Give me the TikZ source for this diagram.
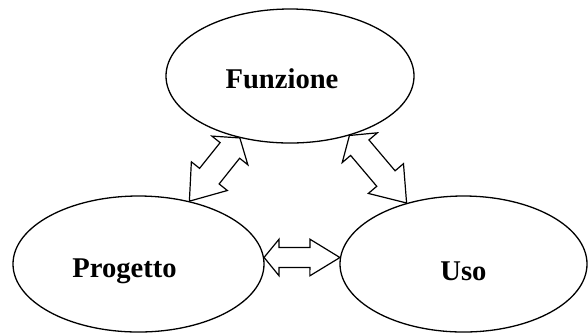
\documentclass[tikz,border=0pt]{standalone}
\usepackage{fontspec}
\setmainfont{Liberation Serif}
\usetikzlibrary{shapes.geometric,calc}

\tikzset{
	oval/.style={ellipse, draw, fill=white, line width=0.65pt, inner sep=0pt},
	every label/.style={font=\fontsize{14.3}{17}\selectfont\bfseries},
	dblarrow/.style n args={3}{draw, fill=white, line width=0.6pt, line join=miter,
		to path={let \p1=(\tikztostart), \p2=(\tikztotarget),
			\n1={atan2(\y2-\y1,\x2-\x1)}, \n2={veclen(\x2-\x1,\y2-\y1)} in
			{[shift={(\p1)}, rotate=\n1]
			(0,0) -- (#3,#2) -- (#3,#1) -- ({\n2-#3},#1) -- ({\n2-#3},#2) -- (\n2,0)
			-- ({\n2-#3},-#2) -- ({\n2-#3},-#1) -- (#3,-#1) -- (#3,-#2) -- cycle}}},
}

\begin{document}
\begin{tikzpicture}[x=0.5pt, y=-0.5pt]
		\useasboundingbox (0,0) rectangle (588,334);

		\node[oval, minimum width=124pt, minimum height=67pt,
			label={[xshift=-4pt, yshift=-1.5pt]center:Funzione}] (fun) at (290,76) {} ;
		\node[oval, minimum width=125.5pt, minimum height=68pt,
			label={[xshift=-7pt, yshift=-3.5pt]center:Progetto}] (prog) at (138.5,264) {} ;
		\node[oval, minimum width=123.5pt, minimum height=68pt,
			label={[yshift=-3.5pt]center:Uso}] (uso) at (463.5,264) {} ;

		\draw[dblarrow={12.5}{23}{16}] (fun.231) to (prog.51) ;
		\draw[dblarrow={12}{23}{16}] (fun.315) to (uso.133) ;
		\draw[dblarrow={10}{18.3}{15}] (prog.3) to (uso.177) ;
\end{tikzpicture}
\end{document}
